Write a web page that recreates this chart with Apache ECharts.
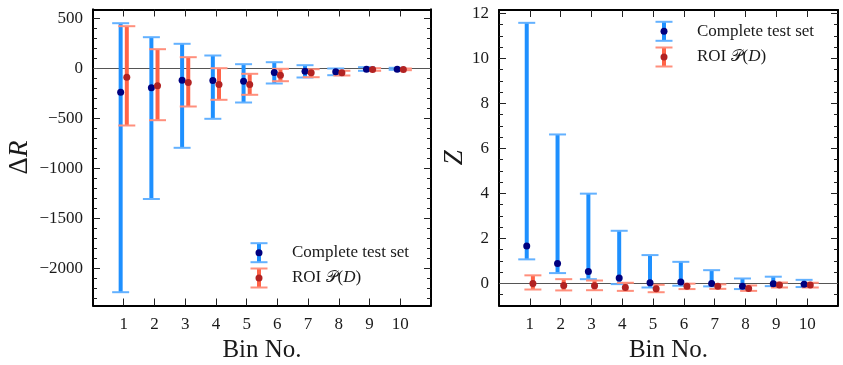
<!DOCTYPE html>
<html>
<head>
<meta charset="utf-8">
<script src="https://cdn.jsdelivr.net/npm/echarts@6/dist/echarts.min.js"></script>
<style>html,body{margin:0;padding:0;background:#fff}#main{width:843px;height:365px}</style>
</head>
<body>
<div id="main"></div>
<script>
// bins on the x axis
var bins = [1, 2, 3, 4, 5, 6, 7, 8, 9, 10];

// left panel: Delta R
var drBlueVal = [-237, -193, -117, -120, -127, -40, -27, -33, -7, -7];
var drBlueLo  = [-2237, -1305, -793, -503, -340, -150, -90, -67, -23, -13];
var drBlueHi  = [453, 313, 247, 130, 43, 63, 33, 0, 13, 7];
var drRedVal  = [-87, -173, -140, -160, -160, -67, -43, -43, -10, -10];
var drRedLo   = [-570, -517, -380, -313, -263, -127, -87, -70, -23, -17];
var drRedHi   = [423, 193, 113, 3, -53, -3, -7, -23, 3, 0];

// right panel: Z
var zBlueVal = [1.66, 0.89, 0.53, 0.24, 0.03, 0.06, 0.0, -0.13, -0.01, -0.04];
var zBlueLo  = [1.07, 0.46, 0.19, -0.03, -0.18, -0.10, -0.13, -0.25, -0.12, -0.16];
var zBlueHi  = [11.58, 6.62, 3.99, 2.34, 1.26, 0.96, 0.59, 0.22, 0.30, 0.16];
var zRedVal  = [0.0, -0.09, -0.10, -0.18, -0.24, -0.13, -0.13, -0.22, -0.07, -0.07];
var zRedLo   = [-0.27, -0.31, -0.30, -0.33, -0.39, -0.25, -0.24, -0.33, -0.18, -0.18];
var zRedHi   = [0.36, 0.19, 0.13, 0.03, -0.06, -0.01, -0.04, -0.09, 0.04, 0.03];

// tick labels
var drTicks = [-2000, -1500, -1000, -500, 0, 500];
var zTicks = [0, 2, 4, 6, 8, 10, 12];

var serif = 'Liberation Serif';
var blue = '#1e90ff', blueCap = '#63b1ff', blueDot = '#00007f';
var red = '#ff6347', redCap = '#ff8f7c', redDot = '#b22222';

function steps(lo, hi, step) {
  var out = [];
  for (var v = lo; v <= hi + 1e-9; v += step) out.push(Math.round(v * 100) / 100);
  return out;
}
function minus(v) { return String(v).replace('-', '\u2212'); }

function points(vals, lo, hi, shift) {
  return bins.map(function (b, i) { return [b + shift, vals[i], lo[i], hi[i]]; });
}

function errSeries(gi, data, barColor, capColor) {
  return {
    type: 'custom', xAxisIndex: gi * 2, yAxisIndex: gi * 4, z: 3, data: data,
    renderItem: function (params, api) {
      var x = api.value(0);
      var lo = api.coord([x, api.value(2)]);
      var hi = api.coord([x, api.value(3)]);
      var w = 8.5;
      return { type: 'group', children: [
        { type: 'line', shape: { x1: lo[0], y1: lo[1], x2: hi[0], y2: hi[1] }, style: { stroke: barColor, lineWidth: 4 } },
        { type: 'line', shape: { x1: lo[0] - w, y1: lo[1], x2: lo[0] + w, y2: lo[1] }, style: { stroke: capColor, lineWidth: 2 } },
        { type: 'line', shape: { x1: hi[0] - w, y1: hi[1], x2: hi[0] + w, y2: hi[1] }, style: { stroke: capColor, lineWidth: 2 } }
      ] };
    }
  };
}

function dotSeries(gi, data, color, zero) {
  var s = {
    type: 'scatter', xAxisIndex: gi * 2, yAxisIndex: gi * 4, z: 4,
    symbolSize: 7, itemStyle: { color: color, opacity: 1 }, data: data
  };
  if (zero) {
    s.markLine = { silent: true, symbol: 'none', z: 1, label: { show: false },
      lineStyle: { color: '#555', width: 1, type: 'solid' }, data: [{ yAxis: 0 }] };
  }
  return s;
}

function xAxes(gi) {
  var base = { type: 'value', gridIndex: gi, min: 0, max: 11, splitLine: { show: false },
    axisLine: { show: true, onZero: false, lineStyle: { color: '#000', width: 1.8 } },
    axisTick: { show: true, inside: true, length: 7, customValues: bins, lineStyle: { color: '#222', width: 1 } } };
  var bottom = Object.assign({}, base, { position: 'bottom', name: 'Bin No.', nameLocation: 'middle', nameGap: 25,
    nameTextStyle: { fontFamily: serif, fontSize: 25, color: '#1a1a1a' },
    axisLabel: { show: true, customValues: bins, fontFamily: serif, fontSize: 17, color: '#1a1a1a', margin: 11 } });
  var top = Object.assign({}, base, { position: 'top', axisLabel: { show: false } });
  return [bottom, top];
}

function yAxes(gi, min, max, major, minorStep, name, gap, rich) {
  var minor = steps(Math.ceil(min / minorStep) * minorStep, max, minorStep);
  function ax(pos, ticks, len, labels) {
    return { type: 'value', gridIndex: gi, position: pos, min: min, max: max, splitLine: { show: false },
      axisLine: { show: true, onZero: false, lineStyle: { color: '#000', width: 1.8 } },
      axisTick: { show: true, inside: true, length: len, customValues: ticks, lineStyle: { color: '#222', width: 1 } },
      axisLabel: labels ? { show: true, customValues: major, fontFamily: serif, fontSize: 17, color: '#1a1a1a', margin: 10,
        formatter: minus } : { show: false } };
  }
  var left = ax('left', major, 7, true);
  left.name = name; left.nameLocation = 'middle'; left.nameGap = gap;
  left.nameTextStyle = { fontFamily: serif, fontSize: 27, color: '#1a1a1a', rich: rich };
  return [left, ax('left', minor, 4, false), ax('right', major, 7, false), ax('right', minor, 4, false)];
}

function legend(cx, cy, dot, bar, cap, label) {
  var w = 8.5, h = 9.5;
  return { type: 'group', children: [
    { type: 'line', shape: { x1: cx, y1: cy - h, x2: cx, y2: cy + h }, style: { stroke: bar, lineWidth: 4 } },
    { type: 'line', shape: { x1: cx - w, y1: cy - h, x2: cx + w, y2: cy - h }, style: { stroke: cap, lineWidth: 2 } },
    { type: 'line', shape: { x1: cx - w, y1: cy + h, x2: cx + w, y2: cy + h }, style: { stroke: cap, lineWidth: 2 } },
    { type: 'circle', shape: { cx: cx, cy: cy, r: 3.5 }, style: { fill: dot } },
    { type: 'text', x: cx + 33, y: cy, style: { text: label, fontFamily: serif, fontSize: 17, fill: '#1a1a1a',
      verticalAlign: 'middle', rich: { s: { fontFamily: 'DejaVu Sans', fontSize: 16 }, i: { fontStyle: 'italic', fontFamily: serif, fontSize: 17 } } } }
  ] };
}

var chart = echarts.init(document.getElementById('main'), null, { renderer: 'canvas' });
chart.setOption({
  animation: false,
  grid: [
    { left: 93, top: 9.5, width: 338, height: 296, containLabel: false, outerBoundsMode: 'none' },
    { left: 499, top: 10, width: 339, height: 295.5, containLabel: false, outerBoundsMode: 'none' }
  ],
  xAxis: xAxes(0).concat(xAxes(1)),
  yAxis: yAxes(0, -2370, 590, drTicks, 100, '{d|\u0394}{r|R}', 60,
      { d: { fontFamily: serif, fontSize: 27 }, r: { fontFamily: serif, fontStyle: 'italic', fontSize: 27 } })
    .concat(yAxes(1, -0.98, 12.15, zTicks, 0.5, '{r|Z}', 29,
      { r: { fontFamily: serif, fontStyle: 'italic', fontSize: 27 } })),
  series: [
    errSeries(0, points(drBlueVal, drBlueLo, drBlueHi, -0.1), blue, blueCap),
    dotSeries(0, points(drBlueVal, drBlueLo, drBlueHi, -0.1), blueDot, true),
    errSeries(0, points(drRedVal, drRedLo, drRedHi, 0.1), red, redCap),
    dotSeries(0, points(drRedVal, drRedLo, drRedHi, 0.1), redDot, false),
    errSeries(1, points(zBlueVal, zBlueLo, zBlueHi, -0.1), blue, blueCap),
    dotSeries(1, points(zBlueVal, zBlueLo, zBlueHi, -0.1), blueDot, true),
    errSeries(1, points(zRedVal, zRedLo, zRedHi, 0.1), red, redCap),
    dotSeries(1, points(zRedVal, zRedLo, zRedHi, 0.1), redDot, false)
  ],
  graphic: [
    legend(259, 252.7, blueDot, blue, blueCap, 'Complete test set'),
    legend(259, 278, redDot, red, redCap, 'ROI {s|\uD835\uDCAB}({i|D})'),
    legend(664, 31.3, blueDot, blue, blueCap, 'Complete test set'),
    legend(664, 57, redDot, red, redCap, 'ROI {s|\uD835\uDCAB}({i|D})')
  ]
});
</script>
</body>
</html>
